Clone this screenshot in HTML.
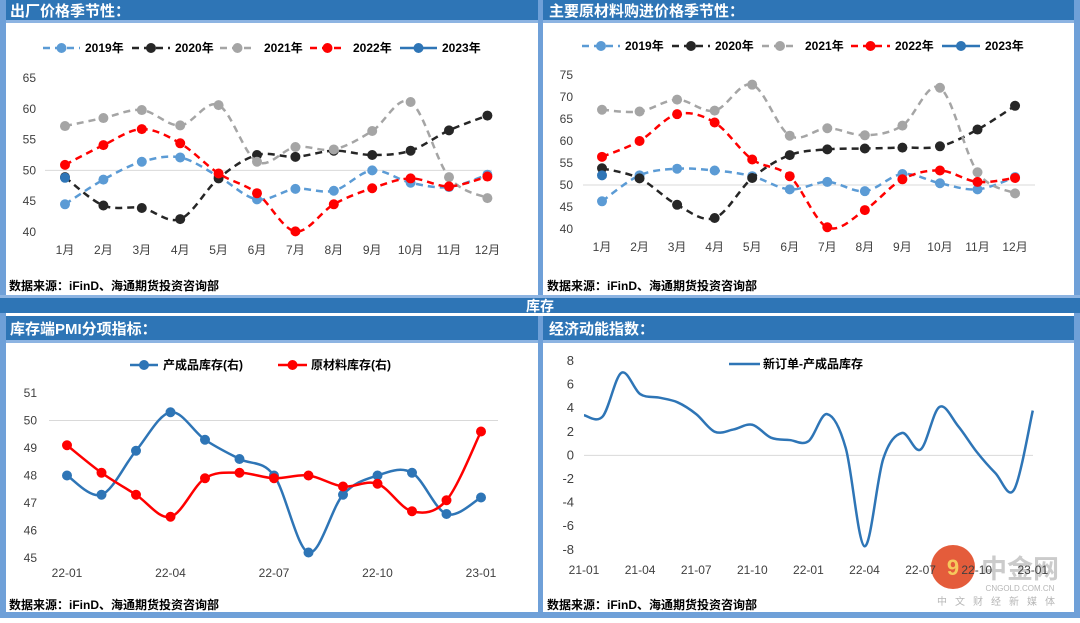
<!DOCTYPE html>
<html><head><meta charset="utf-8"><style>
body{margin:0;width:1080px;height:618px;overflow:hidden;background:#fff;font-family:"Liberation Sans","Noto Sans CJK SC",sans-serif;}
svg text{font-family:"Liberation Sans","Noto Sans CJK SC",sans-serif;}
</style></head><body>
<svg id="s" width="1080" height="618" viewBox="0 0 1080 618">
<rect x="0" y="0" width="1080" height="618" fill="#fff"/>
<rect x="0" y="0" width="6" height="618" fill="#6fa0d8"/>
<rect x="1074" y="0" width="6" height="618" fill="#6fa0d8"/>
<rect x="0" y="612" width="1080" height="6" fill="#6fa0d8"/>
<rect x="538" y="0" width="5" height="298" fill="#6fa0d8"/>
<rect x="538" y="316" width="5" height="300" fill="#6fa0d8"/>
<rect x="6" y="0" width="532" height="20" fill="#2e75b6"/>
<rect x="6" y="20" width="532" height="3" fill="#8db4e2"/>
<rect x="543" y="0" width="531" height="20" fill="#2e75b6"/>
<rect x="543" y="20" width="531" height="3" fill="#8db4e2"/>
<text x="10" y="16" font-size="15" font-weight="bold" fill="#fff">出厂价格季节性：</text>
<text x="549" y="16" font-size="15" font-weight="bold" fill="#fff">主要原材料购进价格季节性：</text>
<rect x="0" y="295" width="1080" height="3" fill="#8db4e2"/>
<rect x="0" y="298" width="1080" height="15" fill="#2e75b6"/>
<text x="540" y="311" font-size="14" font-weight="bold" fill="#fff" text-anchor="middle">库存</text>
<rect x="6" y="316" width="532" height="24" fill="#2e75b6"/>
<rect x="6" y="340" width="532" height="3" fill="#8db4e2"/>
<rect x="543" y="316" width="531" height="24" fill="#2e75b6"/>
<rect x="543" y="340" width="531" height="3" fill="#8db4e2"/>
<text x="10" y="334" font-size="15" font-weight="bold" fill="#fff">库存端PMI分项指标：</text>
<text x="549" y="334" font-size="15" font-weight="bold" fill="#fff">经济动能指数：</text>
<text x="9" y="290" font-size="12" font-weight="bold" fill="#000">数据来源：iFinD、海通期货投资咨询部</text>
<text x="547" y="290" font-size="12" font-weight="bold" fill="#000">数据来源：iFinD、海通期货投资咨询部</text>
<text x="9" y="609" font-size="12" font-weight="bold" fill="#000">数据来源：iFinD、海通期货投资咨询部</text>
<text x="547" y="609" font-size="12" font-weight="bold" fill="#000">数据来源：iFinD、海通期货投资咨询部</text>
<g opacity="0.85">
<circle cx="953" cy="567" r="22" fill="#e0401a"/>
<text x="953" y="575" font-size="22" font-weight="bold" fill="#f5c040" text-anchor="middle">9</text>
<text x="1020" y="578" font-size="26" font-weight="bold" fill="#999" text-anchor="middle" opacity="0.6">中金网</text>
<text x="1020" y="591" font-size="8" fill="#aaa" text-anchor="middle">CNGOLD.COM.CN</text>
<text x="1000" y="605" font-size="10" fill="#aaa" text-anchor="middle" letter-spacing="8">中文财经新媒体</text>
</g>
<g id="g"></g>
</svg>
<script>
const months=["1月","2月","3月","4月","5月","6月","7月","8月","9月","10月","11月","12月"];
const ppiTicks=[40,45,50,55,60,65];
const ppi2019=[44.5,48.5,51.4,52.1,49.0,45.3,47.0,46.7,50.0,48.0,47.3,49.3];
const ppi2020=[48.9,44.3,43.9,42.1,48.7,52.5,52.2,53.2,52.5,53.2,56.5,58.9];
const ppi2021=[57.2,58.5,59.8,57.3,60.6,51.4,53.8,53.4,56.4,61.1,48.9,45.5];
const ppi2022=[50.9,54.1,56.7,54.4,49.5,46.3,40.1,44.5,47.1,48.7,47.4,49.0];
const ppi2023=[48.8];
const matTicks=[40,45,50,55,60,65,70,75];
const mat2019=[46.3,52.2,53.7,53.3,52.0,49.0,50.7,48.6,52.5,50.4,49.0,51.8];
const mat2020=[53.8,51.5,45.5,42.5,51.6,56.8,58.1,58.3,58.5,58.8,62.6,68.0];
const mat2021=[67.1,66.7,69.4,66.9,72.8,61.2,62.9,61.3,63.5,72.1,52.9,48.1];
const mat2022=[56.4,60.0,66.1,64.2,55.8,52.0,40.4,44.3,51.3,53.3,50.7,51.6];
const mat2023=[52.2];
const invLabels=["22-01","22-04","22-07","22-10","23-01"];
const invTicks=[45,46,47,48,49,50,51];
const finishedInv=[48.0,47.3,48.9,50.3,49.3,48.6,48.0,45.2,47.3,48.0,48.1,46.6,47.2];
const rawInv=[49.1,48.1,47.3,46.5,47.9,48.1,47.9,48.0,47.6,47.7,46.7,47.1,49.6];
const momLabels=["21-01","21-04","21-07","21-10","22-01","22-04","22-07","22-10","23-01"];
const momTicks=[-8,-6,-4,-2,0,2,4,6,8];
const momentum=[3.4,3.3,7.0,5.2,4.9,4.5,3.5,2.0,2.2,2.6,1.5,1.3,1.2,3.5,0.6,-7.7,-0.3,1.9,0.5,4.1,2.5,0.3,-1.5,-2.9,3.8];

const NS="http://www.w3.org/2000/svg";
const G=document.getElementById('g');
function mk(t,a,p){const e=document.createElementNS(NS,t);for(const k in a)e.setAttribute(k,a[k]);(p||G).appendChild(e);return e;}
function smooth(pts){if(pts.length<2)return "";let d="M"+pts[0][0]+","+pts[0][1];for(let i=0;i<pts.length-1;i++){const p0=pts[i-1]||pts[i],p1=pts[i],p2=pts[i+1],p3=pts[i+2]||p2;const t=6;d+=" C"+(p1[0]+(p2[0]-p0[0])/t)+","+(p1[1]+(p2[1]-p0[1])/t)+" "+(p2[0]-(p3[0]-p1[0])/t)+","+(p2[1]-(p3[1]-p1[1])/t)+" "+p2[0]+","+p2[1];}return d;}
function axisY(ticks,x,yf,fs){ticks.forEach(v=>{const t=mk('text',{x:x,y:yf(v)+4,'font-size':fs||12,fill:'#404040','text-anchor':'end'});t.textContent=v;

});}
function series(vals,xf,yf,color,dash,marker,name){const g=mk('g',{});


const pts=vals.map((v,i)=>[xf(i),yf(v)]);
if(pts.length>1){const p=mk('path',{d:smooth(pts),fill:'none',stroke:color,'stroke-width':2.5,'stroke-dasharray':dash||'none'},g);}
if(marker)pts.forEach(p=>{const c=mk('circle',{cx:p[0],cy:p[1],r:5,fill:color},g);

});}
function legend(x1,x2,tx,y,color,dash,marker,label){const g=mk('g',{});


mk('line',{x1:x1,x2:x2,y1:y,y2:y,stroke:color,'stroke-width':2.5,'stroke-dasharray':dash||'none'},g);
if(marker)mk('circle',{cx:(x1+x2)/2,cy:y,r:5,fill:color},g);
const t=mk('text',{x:tx,y:y+4,'font-size':12,'font-weight':'bold',fill:'#000'},g);t.textContent=label;}
const cols=["#5b9bd5","#262626","#a5a5a5","#ff0000","#2e75b6"];
const dashes=["7,5","7,5","7,5","7,5",null];
const yrs=["2019年","2020年","2021年","2022年","2023年"];
// chart 1
{const yf=v=>78+(65-v)*6.16, xf=i=>65+i*38.4;
mk('line',{x1:45,x2:492,y1:yf(50),y2:yf(50),stroke:'#d9d9d9','stroke-width':1});
axisY(ppiTicks,36,yf);
months.forEach((m,i)=>{const t=mk('text',{x:xf(i),y:254,'font-size':12,fill:'#404040','text-anchor':'middle'});t.textContent=m;

});
[ppi2019,ppi2020,ppi2021,ppi2022,ppi2023].forEach((s,k)=>series(s,xf,yf,cols[k],dashes[k],true,'ppi-series-'+yrs[k]));
const lx=[[43,80,85],[132,170,175],[220,255,264],[310,345,353],[400,437,442]];
lx.forEach((l,k)=>legend(l[0],l[1],l[2],48,cols[k],dashes[k],true,yrs[k]));}
// chart 2
{const yf=v=>75+(75-v)*4.4, xf=i=>602+i*37.55;
mk('line',{x1:583,x2:1035,y1:yf(50),y2:yf(50),stroke:'#d9d9d9','stroke-width':1});
axisY(matTicks,573,yf);
months.forEach((m,i)=>{const t=mk('text',{x:xf(i),y:251,'font-size':12,fill:'#404040','text-anchor':'middle'});t.textContent=m;

});
[mat2019,mat2020,mat2021,mat2022,mat2023].forEach((s,k)=>series(s,xf,yf,cols[k],dashes[k],true,'material-series-'+yrs[k]));
const lx=[[582,620,625],[672,710,715],[762,798,805],[851,890,895],[942,980,985]];
lx.forEach((l,k)=>legend(l[0],l[1],l[2],46,cols[k],dashes[k],true,yrs[k]));}
// chart 3
{const yf=v=>393+(51-v)*27.5, xf=i=>67+i*34.5;
mk('line',{x1:49,x2:498,y1:yf(50),y2:yf(50),stroke:'#d9d9d9','stroke-width':1});
axisY(invTicks,37,yf);
invLabels.forEach((m,k)=>{const t=mk('text',{x:xf(k*3),y:577,'font-size':12,fill:'#404040','text-anchor':'middle'});t.textContent=m;

});
series(finishedInv,xf,yf,"#2e75b6",null,true,'finished-goods-inventory');
series(rawInv,xf,yf,"#ff0000",null,true,'raw-material-inventory');
legend(130,158,163,365,"#2e75b6",null,true,"产成品库存(右)");
legend(278,307,311,365,"#ff0000",null,true,"原材料库存(右)");}
// chart 4
{const yf=v=>361+(8-v)*11.8, xf=i=>584+i*18.7;
mk('line',{x1:584,x2:1033,y1:yf(0),y2:yf(0),stroke:'#d9d9d9','stroke-width':1});
axisY(momTicks,574,yf,13);
momLabels.forEach((m,k)=>{const t=mk('text',{x:xf(k*3),y:574,'font-size':12,fill:'#404040','text-anchor':'middle'});t.textContent=m;

});
series(momentum,xf,yf,"#2e75b6",null,false,'new-orders-minus-inventory');
legend(729,760,763,364,"#2e75b6",null,false,"新订单-产成品库存");}
</script>
</body></html>
